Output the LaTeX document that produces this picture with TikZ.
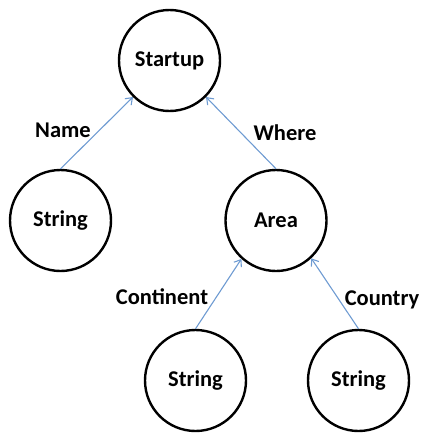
\documentclass[tikz,border=0pt]{standalone}
\usepackage{fontspec}
\setmainfont{Carlito}
\usetikzlibrary{arrows.meta}
\definecolor{linkblue}{RGB}{110,155,210}
\tikzset{
  entity/.style={circle, draw=black, line width=2.4pt, minimum size=101pt, inner sep=0pt,
                 font=\fontsize{22.5}{26}\selectfont\bfseries},
  link/.style={draw=linkblue, line width=1.1pt, -{Straight Barb[length=6pt,width=9pt,line width=1.1pt]}},
  tag/.style={font=\fontsize{22.5}{26}\selectfont\bfseries, inner sep=0pt}
}
\begin{document}
\begin{tikzpicture}[x=1pt, y=-1pt]
  \useasboundingbox (0,0) rectangle (421,436);
  % entities
  \node[entity] (startup) at (169.5,60.5) {Startup};
  \node[entity] (name)    at (60.5,220.5) {String};
  \node[entity] (area)    at (276,220.5) {Area};
  \node[entity] (cont)    at (195.5,380.5) {String};
  \node[entity] (country) at (358.5,380.5) {String};
  % relations, pointing to the owner
  \draw[link] (name.north) -- (startup.225);
  \draw[link] (area.north) -- (startup.315);
  \draw[link] (cont.north) -- (area.228);
  \draw[link] (country.north) -- (area.313);
  % relation labels
  \node[tag] (lname)  at (63,130)  {Name};
  \node[tag] (lwhere) at (285,133) {Where};
  \node[tag] (lcont)  at (162,297) {Continent};
  \node[tag] (lcntry) at (382,300) {Country};
\end{tikzpicture}
\end{document}
